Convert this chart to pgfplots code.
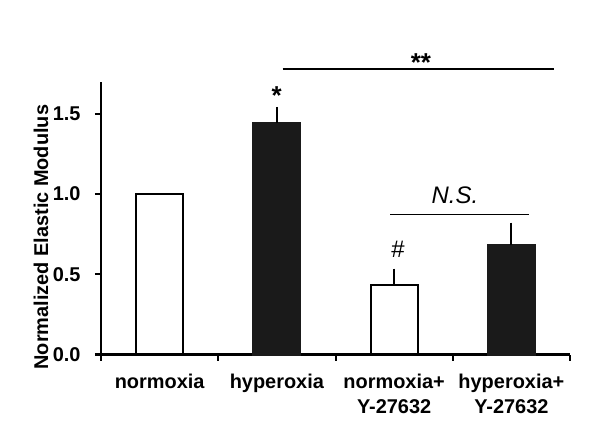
\documentclass[border=0pt]{standalone}
\usepackage{pgfplots}
\pgfplotsset{compat=1.18}
\usepackage{fontspec}
\setmainfont{Liberation Sans}
\definecolor{barblack}{HTML}{1A1A1A}
\begin{document}
\begin{tikzpicture}
\path[use as bounding box] (-101bp,-79.5bp) rectangle (499bp,354.5bp);
\begin{axis}[
  at={(0,0)}, anchor=south west,
  scale only axis, width=469bp, height=272.8bp,
  xmin=-0.5, xmax=3.5, ymin=0, ymax=1.7,
  axis lines*=left,
  axis line style={line width=2.5bp, black},
  /pgf/number format/assume math mode=true,
  ytick={0,0.5,1,1.5},
  yticklabel style={/pgf/number format/fixed, /pgf/number format/precision=1,
    /pgf/number format/fixed zerofill, font=\fontsize{20}{24}\selectfont\bfseries,
    xshift=-11bp},
  tick align=outside, major tick length=6bp, minor tick length=6bp,
  tick style={line width=2bp, black},
  xtick={0,1,2,3},
  xticklabels={normoxia, hyperoxia, normoxia+\\Y-27632, hyperoxia+\\Y-27632},
  xticklabel style={align=center, anchor=north, yshift=-10bp,
    font=\fontsize{20}{25}\selectfont\bfseries},
  minor xtick={-0.5,0.5,1.5,2.5,3.5},
  major x tick style={draw=none},
  ylabel={Normalized Elastic Modulus},
  ylabel style={at={(axis description cs:-0.128,0.43)}, anchor=center,
    font=\fontsize{20}{24}\selectfont\bfseries},
  clip=false,
]
\addplot[ybar, bar shift=0pt, bar width=0.4, fill=white, draw=black, line width=2bp]
  coordinates {(0,1.0)};
\addplot[ybar, bar shift=0pt, bar width=0.4, fill=white, draw=black, line width=2bp,
  error bars/.cd, y dir=plus, y explicit,
  error bar style={line width=2bp, black},
  error mark options={line width=2bp, mark size=2.5bp, black}]
  coordinates {(2,0.436) +- (0,0.083)};
\addplot[ybar, bar shift=0pt, bar width=0.4, fill=barblack, draw=barblack, line width=2bp,
  error bars/.cd, y dir=plus, y explicit,
  error bar style={line width=2bp, black},
  error mark options={line width=2bp, mark size=2.5bp, black}]
  coordinates {(1,1.44) +- (0,0.087) (3,0.68) +- (0,0.126)};
\node[anchor=base, font=\fontsize{26}{30}\selectfont\bfseries] at (axis cs:0.998,1.556) {*};
\draw[line width=1.5bp] (axis cs:1.05,1.778) -- (axis cs:3.363,1.778);
\node[anchor=base, font=\fontsize{26}{30}\selectfont\bfseries] at (axis cs:2.229,1.763) {**};
\draw[line width=1.5bp] (axis cs:1.965,0.873) -- (axis cs:3.15,0.873);
\node[anchor=base, font=\fontsize{24}{28}\selectfont\itshape] at (axis cs:2.519,0.939) {N.S.};
\node[anchor=base, font=\fontsize{24}{28}\selectfont] at (axis cs:2.033,0.604) {\#};
\end{axis}
\end{tikzpicture}
\end{document}
